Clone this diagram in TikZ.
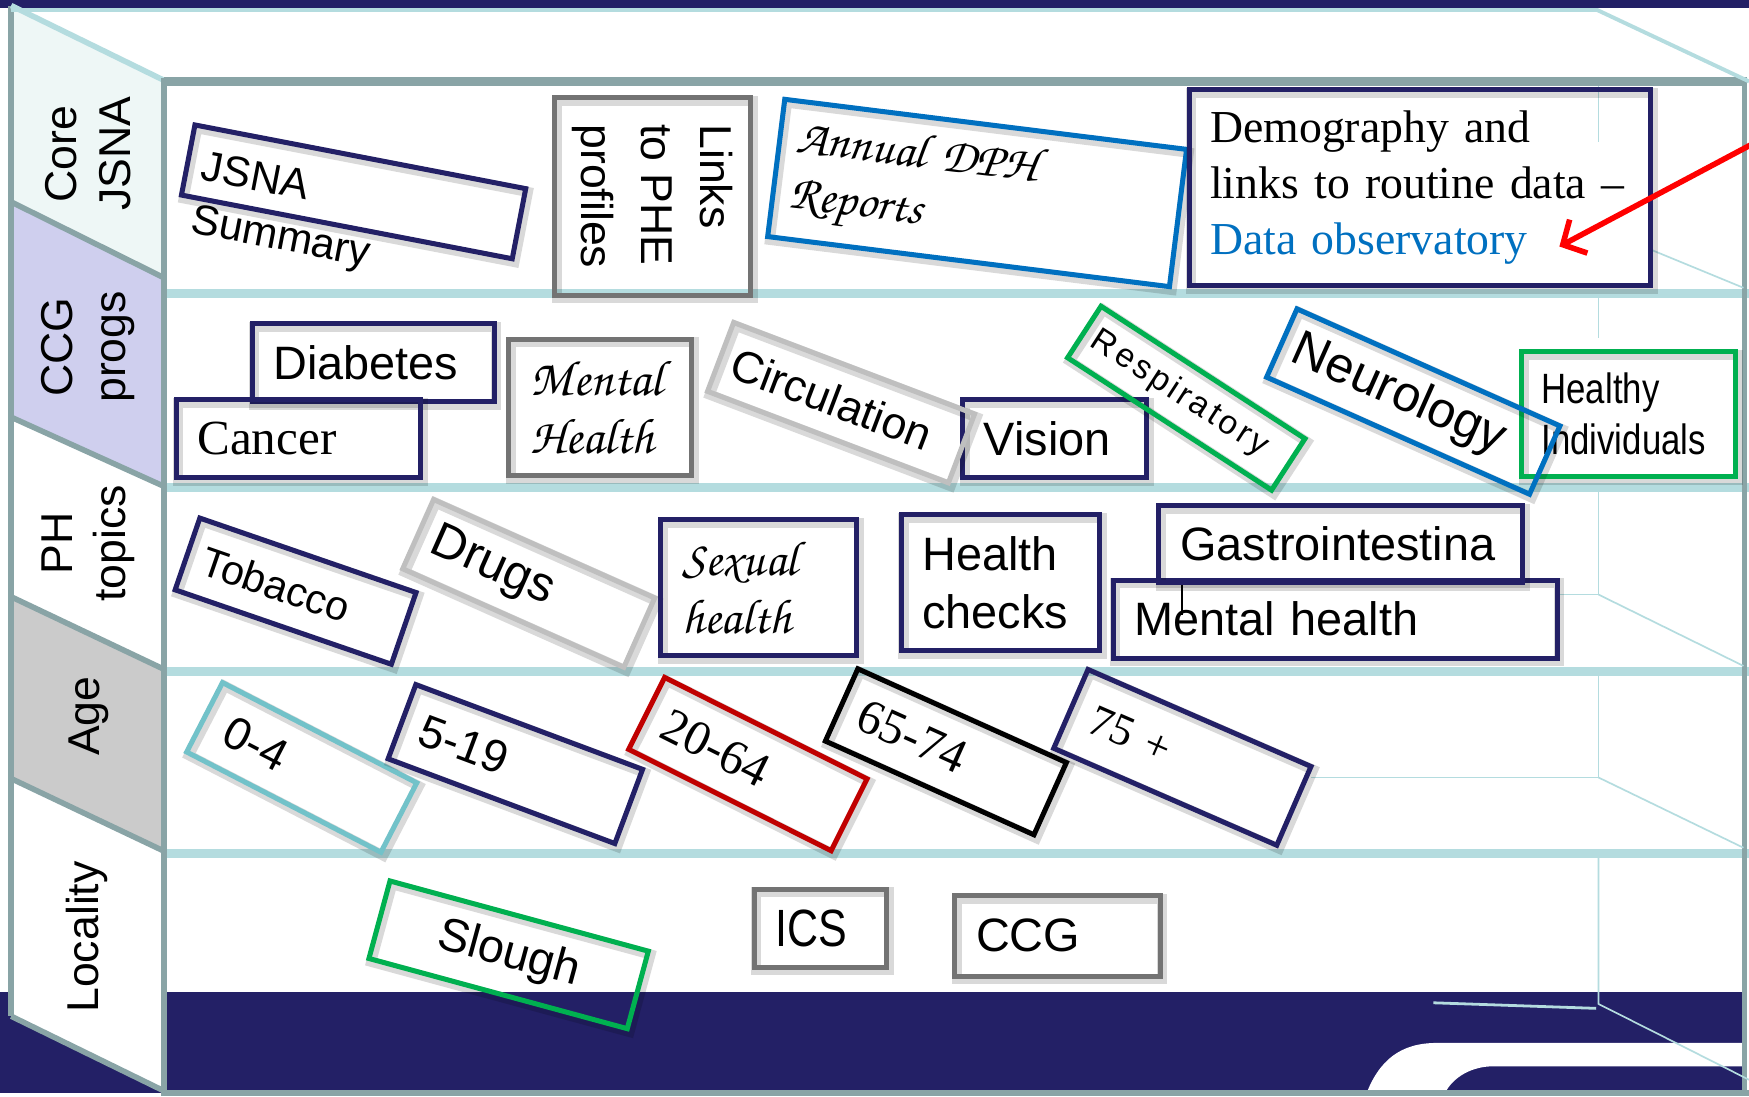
\documentclass[tikz,border=0pt]{standalone}
\usepackage[T1]{fontenc}
\usepackage{fontspec}
\setmainfont{Liberation Serif}
\setsansfont{Liberation Sans}
\newfontfamily\narrowsans{Liberation Sans}[FakeStretch=0.82]
\newfontfamily\spacedsans{Liberation Sans}[LetterSpace=10]
\newcommand{\callig}{\fontencoding{T1}\fontfamily{pzc}\fontseries{mb}\fontshape{it}\selectfont}
\usetikzlibrary{arrows.meta}
\definecolor{deepnavy}{HTML}{232066}
\definecolor{wallgray}{HTML}{89A4A6}
\definecolor{shelfteal}{HTML}{B4DCDF}
\definecolor{mint}{HTML}{EEF7F6}
\definecolor{lavender}{HTML}{CFCFEE}
\definecolor{agegray}{HTML}{CBCBCB}
\definecolor{boxblue}{HTML}{0070C0}
\definecolor{boxgreen}{HTML}{00B050}
\definecolor{boxred}{HTML}{C00000}
\definecolor{boxteal}{HTML}{72C2C9}
\definecolor{boxgray}{HTML}{737373}
\definecolor{lightbox}{HTML}{BFBFBF}
\definecolor{arrowred}{HTML}{FF0000}

\begin{document}
\begin{tikzpicture}[x=1pt, y=-1pt,
    wallline/.style={draw=wallgray, line width=5pt},
    shelfline/.style={draw=shelfteal, line width=8pt},
    backline/.style={draw=shelfteal, line width=1.5pt},
    cardbox/.style={draw=deepnavy, line width=4.5pt, inner xsep=19pt, inner ysep=0pt, align=left,
        font=\sffamily\fontsize{42}{50}\selectfont,
        preaction={draw=black, draw opacity=0.15, line width=9pt, transform canvas={xshift=2pt, yshift=-3pt}}},
    sidetext/.style={rotate=90, align=center, font=\sffamily\fontsize{40}{48}\selectfont}]
    \useasboundingbox (0,0) rectangle (1568,983);
    \fill[white] (0,0) rectangle (1568,983);

    % navy bands
    \fill[deepnavy] (0,0) rectangle (1568,7);
    \fill[deepnavy] (0,889) rectangle (1564,980);
    \fill[white] (1224,983) .. controls (1236,950) and (1256,935) .. (1288,935) -- (1564,935) -- (1564,956) -- (1336,956) .. controls (1316,957) and (1300,968) .. (1294,983) -- cycle;

    % side wall
    \fill[mint] (10,5) -- (147,72) -- (147,249) -- (10,181) -- cycle;
    \fill[lavender] (10,181) -- (147,249) -- (147,436) -- (10,374) -- cycle;
    \fill[white] (10,374) -- (147,436) -- (147,600) -- (10,535) -- cycle;
    \fill[agegray] (10,535) -- (147,600) -- (147,763) -- (10,698) -- cycle;
    \fill[white] (10,698) -- (147,763) -- (147,978) -- (10,911) -- cycle;
    \draw[wallline] (10,181) -- (147,249);
    \draw[wallline] (10,374) -- (147,436);
    \draw[wallline] (10,535) -- (147,600);
    \draw[wallline] (10,698) -- (147,763);
    \draw[wallline] (10,911) -- (147,978);
    \draw[wallline] (10,5) -- (10,911);
    \draw[shelfteal, line width=5pt] (10,5) -- (147,72);

    % front frame and shelves
    \foreach \y in {263,437,602,765}
        \draw[shelfline] (150,\y) -- (1568,\y);
    \draw[wallline, line width=8pt] (147,73) -- (1566,73);
    \draw[wallline, line width=6pt] (147,70) -- (147,983);
    \draw[wallline, line width=4pt] (1564,70) -- (1564,983);
    \draw[wallline, line width=6pt] (147,980) -- (1568,980);
    \draw[shelfteal, line width=3.5pt] (10,9) -- (1432,9) -- (1568,73);

    % back wall
    \draw[backline] (1433,77) -- (1433,127);
    \draw[backline] (1478,223) -- (1563,258);
    \draw[backline] (1433,267) -- (1433,303);
    \draw[backline] (1398,533) -- (1433,533) -- (1433,441);
    \draw[backline] (1433,533) -- (1563,597);
    \draw[backline] (1175,697) -- (1433,697) -- (1433,606);
    \draw[backline] (1433,697) -- (1563,760);
    \draw[backline] (1433,769) -- (1433,900) -- (1568,968);
    \draw[shelfteal, line width=2.5pt] (1285,899) -- (1431,904);

    % Core JSNA
    \node[cardbox, rotate=-10.9, minimum width=302pt, minimum height=64pt] (jsna) at (317,172) {};
    \node[rotate=-10.9, align=left, font=\sffamily\fontsize{38}{48}\selectfont] (jsnatext) at (256,191) {JSNA\\Summary};
    \node[cardbox, draw=boxgray, rotate=-90, inner sep=0pt, minimum width=177pt, minimum height=176pt, font=\sffamily\fontsize{40}{53}\selectfont] (links) at (585,176) {Links\\to PHE\\profiles};
    \node[cardbox, draw=boxblue, rotate=-7.1, text width=333pt, inner xsep=15pt, minimum height=124pt, font=\callig\fontsize{44}{50}\selectfont] (dph) at (876,173) {Annual DPH\\Reports};
    \node[cardbox, text width=390pt, inner xsep=12pt, minimum height=176pt, font=\rmfamily\fontsize{41}{50}\selectfont] (demog) at (1273,168) {\hspace*{7pt}Demography and\\\hspace*{7pt}links to routine data --\\\hspace*{7pt}\textcolor{boxblue}{Data observatory}};

    % CCG progs
    \node[cardbox, text width=179pt, minimum height=70pt] (diabetes) at (334.5,325) {Diabetes};
    \node[cardbox, text width=181pt, minimum height=70pt, font=\rmfamily\fontsize{44}{50}\selectfont] (cancer) at (267.5,393) {Cancer};
    \node[cardbox, draw=boxgray, text width=124pt, inner xsep=20pt, minimum height=122pt, font=\callig\fontsize{45}{52}\selectfont] (mentalccg) at (538,365) {Mental\\Health};
    \node[cardbox, text width=127pt, minimum height=70pt] (vision) at (945.5,393) {Vision};
    \node[cardbox, draw=lightbox, rotate=-20.8, text width=207pt, inner xsep=12pt, minimum height=66pt, font=\sffamily\fontsize{40}{48}\selectfont] (circulation) at (754,361) {Circulation};
    \node[cardbox, draw=boxgreen, rotate=-33, text width=198pt, inner xsep=10pt, minimum height=55pt, font=\spacedsans\fontsize{30}{36}\selectfont] (resp) at (1063.5,357) {Respiratory};
    \node[cardbox, draw=boxgreen, text width=156pt, inner xsep=18pt, minimum height=112pt, font=\narrowsans\fontsize{38}{45}\selectfont] (healthy) at (1460,371) {Healthy\\Individuals};
    \node[cardbox, draw=boxblue, rotate=-24, text width=234pt, inner xsep=12pt, minimum height=67pt, font=\sffamily\fontsize{45}{50}\selectfont] (neuro) at (1267,360) {Neurology};

    % PH topics
    \node[cardbox, rotate=-19, text width=175pt, inner xsep=15pt, minimum height=68pt, font=\sffamily\fontsize{37}{44}\selectfont] (tobacco) at (265,530) {Tobacco};
    \node[cardbox, draw=lightbox, rotate=-24, text width=189pt, inner xsep=14pt, minimum height=68pt, font=\sffamily\fontsize{44}{50}\selectfont] (drugs) at (474,523) {Drugs};
    \node[cardbox, text width=136pt, inner xsep=20pt, minimum height=122pt, font=\callig\fontsize{44}{52}\selectfont] (sexual) at (680,527) {Sexual\\health};
    \node[cardbox, text width=140pt, minimum height=122pt, font=\sffamily\fontsize{42}{52}\selectfont] (checks) at (897,522) {Health\\checks};
    \node[cardbox, text width=360pt, minimum height=70pt] (mentalph) at (1197,555) {Mental health};
    \node[cardbox, text width=288pt, minimum height=69pt] (gastro) at (1202,487.5) {Gastrointestina};
    \draw[black, line width=1.5pt] ([xshift=23pt]gastro.south west) -- ++(0,27);

    % Age
    \node[cardbox, draw=boxteal, rotate=-27.3, text width=152pt, inner xsep=22pt, minimum height=70pt, font=\sffamily\fontsize{41}{48}\selectfont] (agea) at (270.5,688) {0-4};
    \node[cardbox, rotate=-20.5, text width=181pt, inner xsep=18pt, minimum height=71pt, font=\sffamily\fontsize{41}{48}\selectfont] (ageb) at (462,685) {5-19};
    \node[cardbox, draw=boxred, rotate=-26.6, text width=167pt, inner xsep=18pt, minimum height=72pt, font=\rmfamily\fontsize{44}{50}\selectfont] (agec) at (670.5,685) {20-64};
    \node[cardbox, draw=black, rotate=-24.2, text width=169pt, inner xsep=18pt, minimum height=71pt, font=\rmfamily\fontsize{44}{50}\selectfont] (aged) at (848,674) {65-74};
    \node[cardbox, rotate=-23.5, text width=178pt, inner xsep=20pt, minimum height=77pt, font=\rmfamily\fontsize{40}{48}\selectfont] (agee) at (1060,679) {75 +};

    % Locality
    \node[cardbox, draw=boxgreen, rotate=-15.2, text width=200pt, inner xsep=20pt, minimum height=72pt, align=center] (slough) at (456,856) {Slough};
    \node[cardbox, draw=boxgray, text width=81pt, minimum height=70pt, font=\narrowsans\fontsize{47}{50}\selectfont] (ics) at (735.5,832) {ICS};
    \node[cardbox, draw=boxgray, text width=146pt, minimum height=72pt] (ccg) at (948,839) {CCG};

    % pointer
    \coordinate (arrowtail) at (1575,127);
    \coordinate (arrowtip) at (1398,221);
    \draw[arrowred, line width=5pt, -{Straight Barb[length=16pt, width=34pt]}] (arrowtail) -- (arrowtip);

    % side labels
    \node[sidetext] (corelab) at (79,138) {Core\\JSNA};
    \node[sidetext] (ccglab) at (79,311) {CCG\\progs};
    \node[sidetext] (phlab) at (79,487) {PH\\topics};
    \node[sidetext] (agelab) at (80,642) {Age};
    \node[sidetext] (loclab) at (78,840) {Locality};
\end{tikzpicture}
\end{document}
